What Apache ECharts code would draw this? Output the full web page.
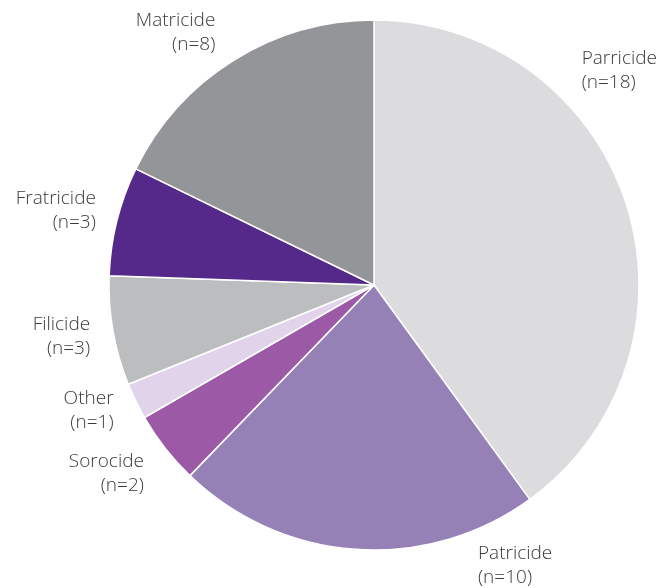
<!DOCTYPE html>
<html lang="en">
<head>
    <meta charset="UTF-8">
    <title>Pie</title>
    <script src="https://cdn.jsdelivr.net/npm/echarts@6/dist/echarts.min.js"></script>
</head>
<body style="margin:0">

<div id="main" style="width: 659px;height:588px;"></div>

</body>
<script>

    // slices, clockwise from 12 o'clock
    var categories = ['Parricide', 'Patricide', 'Sorocide', 'Other', 'Filicide', 'Fratricide', 'Matricide'];
    var counts = [18, 10, 2, 1, 3, 3, 8];
    var colors = ['#dcdcde', '#9581b5', '#9b59a6', '#e1d3ea', '#bcbdbf', '#55298a', '#939598'];

    // label nudges [dx, dy, align]
    var labelShift = [
        [-57, -130, 'left'], [128, 8, 'left'], [-16, 19, 'right'], [-15, 6, 'right'],
        [-15, 4, 'right'], [-13, -8, 'right'], [-9, -21, 'right']
    ];

    var mychart = echarts.init(document.getElementById('main'));

    var option = {
        animation: false,
        color: colors,
        series: [
            {
                type: 'pie',
                center: [374, 285],
                radius: 265,
                startAngle: 90,
                clockwise: true,
                label: {
                    show: true,
                    position: 'outside',
                    formatter: function (p) {
                        return p.name + '\n(n=' + p.value + ')';
                    },
                    fontFamily: 'Open Sans',
                    fontWeight: 300,
                    fontSize: 19,
                    lineHeight: 24,
                    color: '#3a3a3a',
                    overflow: 'none'
                },
                labelLine: {show: false, length: 8, length2: 0},
                labelLayout: function (p) {
                    var s = labelShift[p.dataIndex];
                    return {dx: s[0], dy: s[1], align: s[2]};
                },
                itemStyle: {borderColor: '#fff', borderWidth: 1.5},
                emphasis: {disabled: true},
                data: categories.map(function (c, i) {
                    return {name: c, value: counts[i]};
                })
            }
        ]
    };

    mychart.setOption(option);

</script>
</html>
